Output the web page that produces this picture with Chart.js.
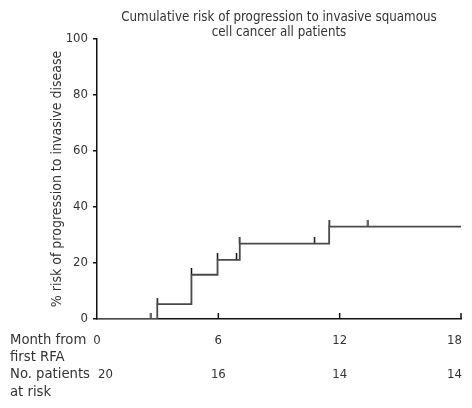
<!DOCTYPE html>
<html lang="en">
<head>
  <meta charset="UTF-8">
  <title>Cumulative risk of progression</title>
  <script src="https://cdn.jsdelivr.net/npm/chart.js"></script>
  <style>
    body { margin: 0; background: #fff; }
    canvas { display: block; }
  </style>
</head>
<body>
  <canvas id="kmChart" width="472" height="408"></canvas>

  <script>
    // Kaplan-Meier step curve (month, cumulative risk %)
    const stepMonths = [0, 2.98, 4.67, 5.96, 7.06, 11.48, 18];
    const stepRisk = [0, 5.3, 15.8, 21.1, 26.9, 33.0, 33.0];

    // censored observations
    const censorMonths = [2.67, 2.98, 4.67, 5.96, 6.9, 7.06, 10.76, 11.48, 13.4];
    const censorRisk = [0, 5.3, 15.8, 21.1, 21.1, 26.9, 26.9, 33.0, 33.0];

    // table under the axis
    const monthTicks = [0, 6, 12, 18];
    const atRisk = [20, 16, 14, 14];

    const titleLines = ['Cumulative risk of progression to invasive squamous', 'cell cancer all patients'];
    const rowLabels = [['Month from', 'first RFA'], ['No. patients', 'at risk']];

    const FONT = '"DejaVu Sans Condensed", "DejaVu Sans", sans-serif';
    const TEXT = '#333';

    // small upward tick used as the censor marker
    const censorMark = document.createElement('canvas');
    censorMark.width = 3;
    censorMark.height = 13;
    const cm = censorMark.getContext('2d');
    cm.strokeStyle = '#111';
    cm.lineWidth = 1.5;
    cm.beginPath();
    cm.moveTo(1.5, 0);
    cm.lineTo(1.5, 6.5);
    cm.stroke();

    const extras = {
      id: 'extras',
      afterDraw(chart) {
        const ctx = chart.ctx;
        const area = chart.chartArea;
        const xs = chart.scales.x;
        ctx.save();

        // title
        ctx.fillStyle = TEXT;
        ctx.font = '13.25px ' + FONT;
        ctx.textAlign = 'center';
        ctx.textBaseline = 'alphabetic';
        const cx = (area.left + area.right) / 2;
        ctx.fillText(titleLines[0], cx, 20.5);
        ctx.fillText(titleLines[1], cx, 36);

        // inward x ticks
        ctx.strokeStyle = '#111';
        ctx.lineWidth = 1.5;
        monthTicks.forEach(m => {
          if (m === 0) return;
          const px = xs.getPixelForValue(m);
          ctx.beginPath();
          ctx.moveTo(px, area.bottom);
          ctx.lineTo(px, area.bottom - 6);
          ctx.stroke();
        });

        // row labels
        ctx.font = '14.7px ' + FONT;
        ctx.textAlign = 'left';
        ctx.fillText(rowLabels[0][0], 10, 344);
        ctx.fillText(rowLabels[0][1], 10, 361);
        ctx.fillText(rowLabels[1][0], 10, 378);
        ctx.fillText(rowLabels[1][1], 10, 396);

        // numbers
        ctx.font = '13px ' + FONT;
        monthTicks.forEach((m, i) => {
          const px = xs.getPixelForValue(m);
          const last = i === monthTicks.length - 1;
          ctx.textAlign = last ? 'right' : 'center';
          ctx.fillText(String(m), last ? px + 1 : px, 344);
          ctx.textAlign = i === 0 ? 'left' : (last ? 'right' : 'center');
          ctx.fillText(String(atRisk[i]), i === 0 ? px + 1 : (last ? px + 1 : px), 378);
        });
        ctx.restore();
      }
    };

    const ctx = document.getElementById('kmChart').getContext('2d');
    new Chart(ctx, {
      type: 'line',
      data: {
        datasets: [{
          data: stepMonths.map((m, i) => ({ x: m, y: stepRisk[i] })),
          stepped: true,
          borderColor: '#4a4a4a',
          borderWidth: 1.8,
          pointRadius: 0,
          fill: false
        }, {
          type: 'scatter',
          data: censorMonths.map((m, i) => ({ x: m, y: censorRisk[i] })),
          pointStyle: censorMark,
          pointRadius: 4,
          showLine: false
        }]
      },
      options: {
        responsive: false,
        animation: false,
        layout: { padding: { top: 39, right: 11, bottom: 0, left: 0 } },
        plugins: {
          legend: { display: false },
          tooltip: { enabled: false }
        },
        scales: {
          x: {
            type: 'linear',
            min: 0,
            max: 18,
            ticks: { display: false },
            grid: { display: false },
            border: { display: true, color: '#111', width: 1.5 },
            afterFit: s => { s.height = 89; }
          },
          y: {
            min: 0,
            max: 100,
            ticks: { stepSize: 20, color: TEXT, padding: 5, font: { family: FONT, size: 13 } },
            grid: { drawOnChartArea: false, tickLength: 4, color: '#111', lineWidth: 1.5 },
            border: { display: true, color: '#111', width: 1.5 },
            title: {
              display: true,
              text: '% risk of progression to invasive disease',
              color: TEXT,
              font: { family: FONT, size: 14 },
              padding: { top: 49, bottom: 0 }
            },
            afterFit: s => { s.width = 97; }
          }
        }
      },
      plugins: [extras]
    });
  </script>
</body>
</html>
